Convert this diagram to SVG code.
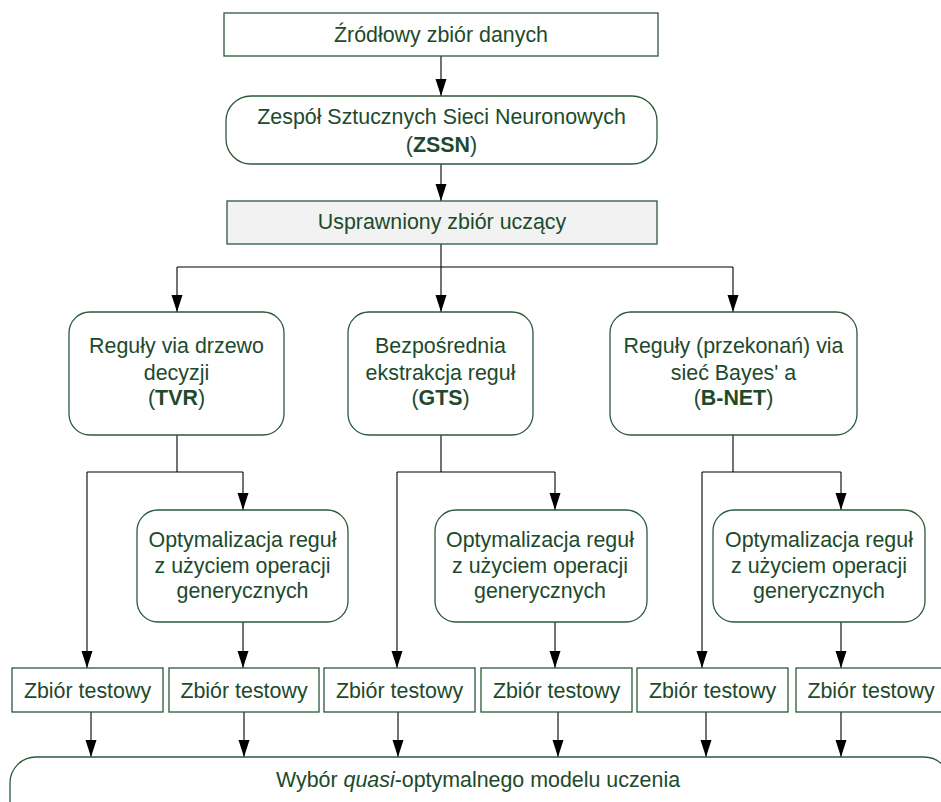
<svg xmlns="http://www.w3.org/2000/svg" width="941" height="802" viewBox="0 0 941 802">
<style>
.box{fill:#ffffff;stroke:#2a5a3a;stroke-width:1.3}
.gray{fill:#f2f2f2}
.t{font-family:"Liberation Sans",Arial,sans-serif;font-size:21.4px;fill:#1d4a2c;text-anchor:middle}
.b{font-weight:bold}
.i{font-style:italic}
.c{fill:none;stroke:#000000;stroke-width:1.1}
.a{fill:none;stroke:#000000;stroke-width:1.1;marker-end:url(#arr)}
</style>
<defs>
<marker id="arr" markerUnits="userSpaceOnUse" markerWidth="17" markerHeight="12" refX="17" refY="6" orient="auto" viewBox="0 0 17 12">
<path d="M0,0.5 L17,6 L0,11.5 z" fill="#000000"/>
</marker>
</defs>
<g id="connectors">
<path class="a" d="M441,56 V96"/>
<path class="a" d="M441,164 V201"/>
<path class="c" d="M441,244 V267 M177,267 H733"/>
<path class="a" d="M177,267 V312"/>
<path class="a" d="M441,267 V312"/>
<path class="a" d="M733,267 V312"/>
<path class="c" d="M177,435 V472 M87,472 H243"/>
<path class="a" d="M87,472 V668"/>
<path class="a" d="M243,472 V510"/>
<path class="a" d="M243,622 V668"/>
<path class="c" d="M441,435 V472 M397,472 H555"/>
<path class="a" d="M397,472 V668"/>
<path class="a" d="M555,472 V510"/>
<path class="a" d="M555,622 V668"/>
<path class="c" d="M733,435 V472 M702,472 H841"/>
<path class="a" d="M702,472 V668"/>
<path class="a" d="M841,472 V510"/>
<path class="a" d="M841,622 V668"/>
<path class="a" d="M91,712 V757"/>
<path class="a" d="M244,712 V757"/>
<path class="a" d="M398,712 V757"/>
<path class="a" d="M558,712 V757"/>
<path class="a" d="M706,712 V757"/>
<path class="a" d="M841,712 V757"/>
</g>
<g id="n-source">
<rect class="box" x="224" y="13" width="434" height="43"/>
<text class="t" x="441" y="42">Źródłowy zbiór danych</text>
</g>
<g id="n-zssn">
<rect class="box" x="226" y="96" width="431" height="68" rx="25" ry="25"/>
<text class="t" x="441.5" y="124">Zespół Sztucznych Sieci Neuronowych</text>
<text class="t" x="441.5" y="152">(<tspan class="b">ZSSN</tspan>)</text>
</g>
<g id="n-train">
<rect class="box gray" x="227" y="201" width="430" height="43"/>
<text class="t" x="442" y="229">Usprawniony zbiór uczący</text>
</g>
<g id="n-tvr">
<rect class="box" x="69" y="312" width="215" height="123" rx="21" ry="21"/>
<text class="t" x="176.5" y="353">Reguły via drzewo</text>
<text class="t" x="176.5" y="380">decyzji</text>
<text class="t" x="176.5" y="405">(<tspan class="b">TVR</tspan>)</text>
</g>
<g id="n-gts">
<rect class="box" x="348" y="312" width="185" height="123" rx="21" ry="21"/>
<text class="t" x="440.5" y="353">Bezpośrednia</text>
<text class="t" x="440.5" y="380">ekstrakcja reguł</text>
<text class="t" x="440.5" y="405">(<tspan class="b">GTS</tspan>)</text>
</g>
<g id="n-bnet">
<rect class="box" x="610" y="312" width="247" height="123" rx="21" ry="21"/>
<text class="t" x="733.5" y="353">Reguły (przekonań) via</text>
<text class="t" x="733.5" y="380">sieć Bayes' a</text>
<text class="t" x="733.5" y="405">(<tspan class="b">B-NET</tspan>)</text>
</g>
<g id="n-opt1">
<rect class="box" x="137" y="510" width="211" height="112" rx="21" ry="21"/>
<text class="t" x="242.5" y="547">Optymalizacja reguł</text>
<text class="t" x="242.5" y="573">z użyciem operacji</text>
<text class="t" x="242.5" y="598">generycznych</text>
</g>
<g id="n-opt2">
<rect class="box" x="435" y="510" width="212" height="112" rx="21" ry="21"/>
<text class="t" x="540" y="547">Optymalizacja reguł</text>
<text class="t" x="540" y="573">z użyciem operacji</text>
<text class="t" x="540" y="598">generycznych</text>
</g>
<g id="n-opt3">
<rect class="box" x="713" y="510" width="212" height="112" rx="21" ry="21"/>
<text class="t" x="819" y="547">Optymalizacja reguł</text>
<text class="t" x="819" y="573">z użyciem operacji</text>
<text class="t" x="819" y="598">generycznych</text>
</g>
<g id="n-test1">
<rect class="box" x="12" y="668" width="151" height="44"/>
<text class="t" x="87.5" y="698">Zbiór testowy</text>
</g>
<g id="n-test2">
<rect class="box" x="169" y="668" width="150" height="44"/>
<text class="t" x="244" y="698">Zbiór testowy</text>
</g>
<g id="n-test3">
<rect class="box" x="324" y="668" width="151" height="44"/>
<text class="t" x="399.5" y="698">Zbiór testowy</text>
</g>
<g id="n-test4">
<rect class="box" x="481" y="668" width="151" height="44"/>
<text class="t" x="556.5" y="698">Zbiór testowy</text>
</g>
<g id="n-test5">
<rect class="box" x="637" y="668" width="151" height="44"/>
<text class="t" x="712.5" y="698">Zbiór testowy</text>
</g>
<g id="n-test6">
<rect class="box" x="796" y="668" width="151" height="44"/>
<text class="t" x="871" y="698">Zbiór testowy</text>
</g>
<g id="n-select">
<rect class="box" x="10" y="757" width="940" height="70" rx="26" ry="26"/>
<text class="t" x="478" y="787">Wybór <tspan class="i">quasi</tspan>-optymalnego modelu uczenia</text>
</g>
</svg>
